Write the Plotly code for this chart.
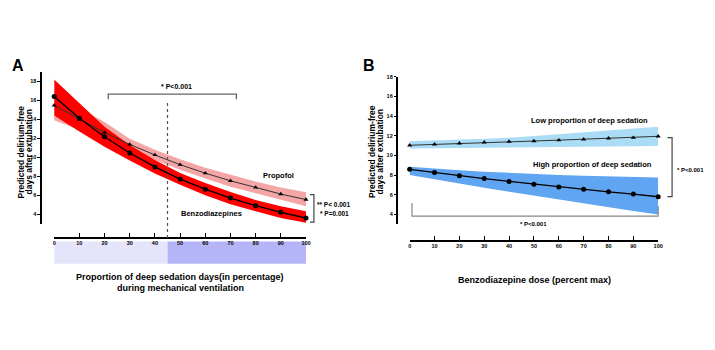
import plotly.graph_objects as go

# ---------------- data ----------------
pct = [0, 10, 20, 30, 40, 50, 60, 70, 80, 90, 100]

# Panel A: predicted delirium-free days vs proportion of deep sedation days
benzo_mean = [16.4, 14.1, 12.15, 10.45, 8.98, 7.7, 6.64, 5.7, 4.9, 4.2, 3.6]
benzo_hi = [18.2, 15.7, 13.2, 11.3, 9.7, 8.35, 7.3, 6.35, 5.5, 4.85, 4.3]
benzo_lo = [14.4, 12.7, 11.1, 9.65, 8.3, 7.1, 6.0, 5.05, 4.3, 3.6, 3.1]

prop_mean = [15.46, 14.0, 12.6, 11.35, 10.24, 9.22, 8.32, 7.52, 6.82, 6.12, 5.54]
prop_hi = [17.0, 15.2, 13.7, 11.95, 10.8, 9.8, 8.9, 8.15, 7.45, 6.8, 6.3]
prop_lo = [13.9, 12.9, 11.6, 10.75, 9.7, 8.67, 7.75, 6.9, 6.2, 5.5, 4.85]

# Panel B: predicted delirium-free days vs benzodiazepine dose
dose = [0, 10, 20, 30, 40, 50, 60, 70, 80, 90, 100]
low_mean = [11.03, 11.13, 11.23, 11.33, 11.4, 11.46, 11.55, 11.64, 11.74, 11.8, 11.94]
low_hi = [11.43, 11.5, 11.6, 11.7, 11.8, 11.95, 12.15, 12.35, 12.55, 12.72, 12.9]
low_lo = [10.69, 10.72, 10.76, 10.8, 10.83, 10.86, 10.88, 10.9, 10.92, 10.93, 10.95]

high_mean = [8.58, 8.25, 7.92, 7.65, 7.35, 7.08, 6.78, 6.55, 6.3, 6.07, 5.8]
high_hi = [8.85, 8.65, 8.5, 8.35, 8.22, 8.1, 8.0, 7.92, 7.85, 7.8, 7.75]
high_lo = [8.0, 7.55, 7.1, 6.7, 6.3, 5.9, 5.5, 5.1, 4.7, 4.35, 4.0]

y_ticks = [4, 6, 8, 10, 12, 14, 16, 18]
x_ticks = [0, 10, 20, 30, 40, 50, 60, 70, 80, 90, 100]

# ---------------- figure ----------------
W, H = 715, 350
FONT = "Arial, Liberation Sans, sans-serif"


def px(xp):
    return xp / W


def py(yp):
    return 1 - yp / H


fig = go.Figure()


def band(x, lo, hi, color, xa, ya):
    fig.add_trace(go.Scatter(x=x, y=lo, mode="lines", line=dict(width=0, color=color),
                             xaxis=xa, yaxis=ya, showlegend=False, hoverinfo="skip"))
    fig.add_trace(go.Scatter(x=x, y=hi, mode="lines", line=dict(width=0, color=color),
                             fill="tonexty", fillcolor=color,
                             xaxis=xa, yaxis=ya, showlegend=False, hoverinfo="skip"))


def curve(x, y, symbol, size, lw, lcolor, xa, ya):
    fig.add_trace(go.Scatter(x=x, y=y, mode="lines+markers",
                             line=dict(color=lcolor, width=lw),
                             marker=dict(symbol=symbol, size=size, color="black"),
                             cliponaxis=False, xaxis=xa, yaxis=ya, showlegend=False))


# Panel A
band(pct, prop_lo, prop_hi, "rgb(244,166,166)", "x", "y")
band(pct, benzo_lo, benzo_hi, "rgb(255,0,0)", "x", "y")
curve(pct, prop_mean, "triangle-up", 4.5, 1, "#333333", "x", "y")
curve(pct, benzo_mean, "circle", 5, 1.3, "black", "x", "y")

# Panel B
band(dose, low_lo, low_hi, "rgb(170,220,245)", "x2", "y2")
band(dose, high_lo, high_hi, "rgb(95,165,242)", "x2", "y2")
curve(dose, low_mean, "triangle-up", 4.5, 1, "#333333", "x2", "y2")
curve(dose, high_mean, "circle", 5, 1.3, "black", "x2", "y2")

tickfont = dict(family=FONT, size=5.5, color="black", weight=700)
ax_common = dict(showgrid=False, zeroline=False, showline=True, linecolor="black",
                 linewidth=1.5, ticks="outside", ticklen=2.5, tickwidth=1,
                 tickcolor="black", tickfont=tickfont, fixedrange=True)

fig.update_layout(
    width=W, height=H, margin=dict(l=0, r=0, t=0, b=0),
    paper_bgcolor="white", plot_bgcolor="rgba(0,0,0,0)",
    xaxis=dict(ax_common, domain=[px(52.7), px(307)], range=[0, 100],
               tickvals=x_ticks, anchor="free", position=py(237), ticks="inside", ticklen=4),
    yaxis=dict(ax_common, domain=[py(222.6), py(69.4)], range=[3, 19],
               tickvals=y_ticks, anchor="free", position=px(39)),
    xaxis2=dict(ax_common, domain=[px(411.7), px(662.7)], range=[0, 100],
                tickvals=x_ticks, anchor="free", position=py(240), ticks="inside", ticklen=4),
    yaxis2=dict(ax_common, domain=[py(223.2), py(74.3)], range=[3, 18],
                tickvals=y_ticks, anchor="free", position=px(399)),
)

shapes = []
# Panel A lavender band under x-axis
shapes.append(dict(type="rect", xref="x", yref="paper", x0=0, x1=45, y0=py(263), y1=py(240.5),
                   fillcolor="rgb(228,228,251)", line=dict(width=0), layer="below"))
shapes.append(dict(type="rect", xref="x", yref="paper", x0=45, x1=100, y0=py(263), y1=py(240.5),
                   fillcolor="rgb(180,180,246)", line=dict(width=0), layer="below"))
# dotted vertical line at 45%
shapes.append(dict(type="line", xref="x", yref="paper", x0=45, x1=45, y0=py(237), y1=py(100),
                   line=dict(color="#555555", width=1.2, dash="dot")))

line_gray = dict(color="#666666", width=1.3)
line_dark = dict(color="#444444", width=1.2)
# Panel A top bracket
shapes.append(dict(type="path", xref="paper", yref="paper",
                   path=f"M {px(107.3)},{py(97)} L {px(107.3)},{py(92)} L {px(236.7)},{py(92)} L {px(236.7)},{py(97)}",
                   line=line_gray))
# Panel A right bracket
shapes.append(dict(type="path", xref="paper", yref="paper",
                   path=f"M {px(311)},{py(193.3)} L {px(315)},{py(193.3)} L {px(315)},{py(221)} L {px(311)},{py(221)}",
                   line=line_dark))
# Panel B right bracket
shapes.append(dict(type="path", xref="paper", yref="paper",
                   path=f"M {px(672)},{py(135.7)} L {px(676.7)},{py(135.7)} L {px(676.7)},{py(195.3)} L {px(672)},{py(195.3)}",
                   line=line_dark))
# Panel B bottom bracket
shapes.append(dict(type="path", xref="paper", yref="paper",
                   path=f"M {px(414)},{py(201.7)} L {px(414)},{py(215)} L {px(662.7)},{py(215)} L {px(662.7)},{py(205)}",
                   line=dict(color="#888888", width=1.2)))
fig.update_layout(shapes=shapes)

ann = []


def text(x, y, s, size, xanchor="center", angle=0, color="black"):
    ann.append(dict(xref="paper", yref="paper", x=px(x), y=py(y), text=s, showarrow=False,
                    xanchor=xanchor, yanchor="middle", textangle=angle,
                    font=dict(family=FONT, size=size, color=color, weight=700)))


text(16.5, 63.5, "A", 16)
text(371, 63.5, "B", 16)
text(176, 84, "* P<0.001", 7)
text(279, 174, "Propofol", 7.5)
text(211.7, 212.3, "Benzodiazepines", 7.5)
text(316, 203, "** P< 0.001", 6.5, "left")
text(319, 212, "* P=0.001", 6.5, "left")
text(180, 276, "Proportion of deep sedation days(in percentage)", 9)
text(180, 287, "during mechanical ventilation", 9)
text(19, 150, "Predicted delirium-free", 8.5, angle=-90)
text(27, 150, "days after extubation", 8.5, angle=-90)
text(373, 150, "Predicted delirium-free", 8.5, angle=-90)
text(381.5, 150, "days after extubation", 8.5, angle=-90)
text(593, 119, "Low proportion of deep sedation", 7.5)
text(596, 162.7, "High proportion of deep sedation", 7.5)
text(680, 168, "* P<0.001", 6, "left")
text(537, 222.5, "* P<0.001", 6)
text(538, 279, "Benzodiazepine dose (percent max)", 9)
fig.update_layout(annotations=ann)

fig.write_html("out.html")
